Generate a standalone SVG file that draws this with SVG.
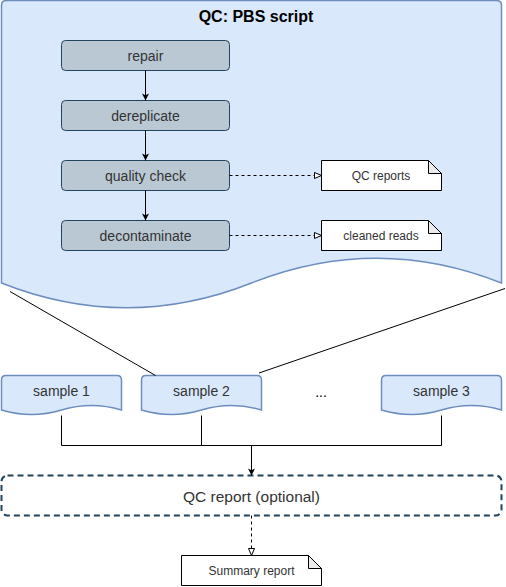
<svg xmlns="http://www.w3.org/2000/svg" width="506" height="587" viewBox="0 0 506 587">
  <style>
    .doc { fill: #dae8fc; stroke: #6c8ebf; stroke-width: 1.5; }
    .proc { fill: #bac8d3; stroke: #23445d; stroke-width: 1; }
    .note { fill: #ffffff; stroke: #000000; stroke-width: 1; }
    .fold { fill: #ebebeb; stroke: #000000; stroke-width: 1; }
    .t14 { font-family: "Liberation Sans", Arial, sans-serif; font-size: 14px; fill: #333333; text-anchor: middle; }
    .t12 { font-family: "Liberation Sans", Arial, sans-serif; font-size: 12px; fill: #333333; text-anchor: middle; }
    .edge { fill: none; stroke: #000000; stroke-width: 1; }
    .dash { stroke-dasharray: 3 3; }
  </style>
  <defs>
    <marker id="filled" markerUnits="userSpaceOnUse" viewBox="0 0 10 10" refX="10" refY="5" markerWidth="9" markerHeight="7" orient="auto">
      <path d="M0,0 L10,5 L0,10 L2.5,5 Z" fill="#000000"/>
    </marker>
    <marker id="open" markerUnits="userSpaceOnUse" viewBox="-1 -1 9 8" refX="7" refY="3" markerWidth="9" markerHeight="8" orient="auto">
      <path d="M0,0 L7,3 L0,6 Z" fill="#ffffff" stroke="#000000" stroke-width="1"/>
    </marker>
  </defs>

  <g id="pbs-script">
    <path class="doc" d="M1.5,5.5 Q1.5,0.5 6.5,0.5 L496.5,0.5 Q501.5,0.5 501.5,5.5 L501.5,283 Q376.5,233.5 251.5,283 Q126.5,332.5 1.5,283 Z"/>
    <text x="256" y="22" font-family="'Liberation Sans', Arial, sans-serif" font-size="16" font-weight="bold" fill="#000000" text-anchor="middle">QC: PBS script</text>
  </g>

  <g id="repair">
    <rect class="proc" x="61.5" y="40.5" width="168" height="30" rx="4"/>
    <text class="t14" x="145.5" y="60.5">repair</text>
  </g>
  <g id="dereplicate">
    <rect class="proc" x="61.5" y="100.5" width="168" height="30" rx="4"/>
    <text class="t14" x="145.5" y="120.5">dereplicate</text>
  </g>
  <g id="quality-check">
    <rect class="proc" x="61.5" y="160.5" width="168" height="30" rx="4"/>
    <text class="t14" x="145.5" y="180.5">quality check</text>
  </g>
  <g id="decontaminate">
    <rect class="proc" x="61.5" y="220.5" width="168" height="30" rx="4"/>
    <text class="t14" x="145.5" y="240.5">decontaminate</text>
  </g>

  <g id="qc-reports">
    <path class="note" d="M321.5,160.5 L428.5,160.5 L441.5,173.5 L441.5,190.5 L321.5,190.5 Z"/>
    <path class="fold" d="M428.5,160.5 L428.5,173.5 L441.5,173.5 Z"/>
    <text class="t12" x="381" y="179.5">QC reports</text>
  </g>
  <g id="cleaned-reads">
    <path class="note" d="M321.5,220.5 L428.5,220.5 L441.5,233.5 L441.5,250.5 L321.5,250.5 Z"/>
    <path class="fold" d="M428.5,220.5 L428.5,233.5 L441.5,233.5 Z"/>
    <text class="t12" x="381" y="239.5">cleaned reads</text>
  </g>

  <g id="sample-1">
    <path class="doc" d="M1.5,380 Q1.5,375.5 6,375.5 L117,375.5 Q121.5,375.5 121.5,380 L121.5,410 Q91.5,401 61.5,410 Q31.5,419 1.5,410 Z"/>
    <text class="t14" x="61.5" y="396">sample 1</text>
  </g>
  <g id="sample-2">
    <path class="doc" d="M141.5,380 Q141.5,375.5 146,375.5 L257,375.5 Q261.5,375.5 261.5,380 L261.5,410 Q231.5,401 201.5,410 Q171.5,419 141.5,410 Z"/>
    <text class="t14" x="201.5" y="396">sample 2</text>
  </g>
  <g id="ellipsis">
    <text x="321" y="397" font-family="'Liberation Sans', Arial, sans-serif" font-size="14" fill="#000000" text-anchor="middle">...</text>
  </g>
  <g id="sample-3">
    <path class="doc" d="M381.5,380 Q381.5,375.5 386,375.5 L497,375.5 Q501.5,375.5 501.5,380 L501.5,410 Q471.5,401 441.5,410 Q411.5,419 381.5,410 Z"/>
    <text class="t14" x="441.5" y="396">sample 3</text>
  </g>

  <g id="qc-report-optional">
    <rect x="1.5" y="475.5" width="500" height="40" rx="6" fill="none" stroke="#23445d" stroke-width="2" stroke-dasharray="6 4"/>
    <text x="251.5" y="502" font-family="'Liberation Sans', Arial, sans-serif" font-size="15.5" fill="#333333" text-anchor="middle">QC report (optional)</text>
  </g>

  <g id="summary-report">
    <path class="note" d="M181.5,555.5 L308.5,555.5 L321.5,568.5 L321.5,585.5 L181.5,585.5 Z"/>
    <path class="fold" d="M308.5,555.5 L308.5,568.5 L321.5,568.5 Z"/>
    <text class="t12" x="251.5" y="574.5">Summary report</text>
  </g>

  <g id="connectors">
    <path class="edge" d="M145.5,70.5 L145.5,100.5" marker-end="url(#filled)"/>
    <path class="edge" d="M145.5,130.5 L145.5,160.5" marker-end="url(#filled)"/>
    <path class="edge" d="M145.5,190.5 L145.5,220.5" marker-end="url(#filled)"/>
    <path class="edge dash" d="M229.5,175.5 L321.5,175.5" marker-end="url(#open)"/>
    <path class="edge dash" d="M229.5,235.5 L321.5,235.5" marker-end="url(#open)"/>
    <path class="edge" d="M10,291.5 L155.5,375.5"/>
    <path class="edge" d="M505,288.5 L259,373"/>
    <path class="edge" d="M61.5,415.5 L61.5,445.5 L441.5,445.5 L441.5,415.5"/>
    <path class="edge" d="M201.5,415.5 L201.5,445.5"/>
    <path class="edge" d="M251.5,445.5 L251.5,475.5" marker-end="url(#filled)"/>
    <path class="edge dash" d="M251.5,515.5 L251.5,555.5" marker-end="url(#open)"/>
  </g>
</svg>
